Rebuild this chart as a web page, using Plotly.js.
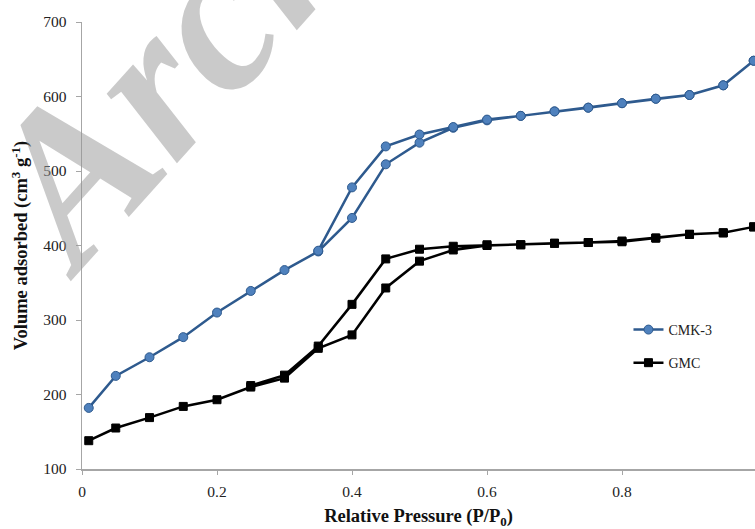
<!DOCTYPE html>
<html>
<head>
<meta charset="utf-8">
<script src="https://cdn.plot.ly/plotly-3.0.1.min.js"></script>
<style>html,body{margin:0;padding:0;background:#fff;}#chart{width:755px;height:529px;}</style>
</head>
<body>
<div id="chart"></div>
<script>
// Relative pressure values (adsorption branch, then desorption branch)
const adsP = [0.01,0.05,0.1,0.15,0.2,0.25,0.3,0.35,0.4,0.45,0.5,0.55,0.6,0.65,0.7,0.75,0.8,0.85,0.9,0.95,0.995];
const desP_cmk = [0.995,0.95,0.9,0.85,0.8,0.75,0.7,0.65,0.6,0.55,0.5,0.45,0.4,0.35];
const desP_gmc = [0.995,0.95,0.9,0.85,0.8,0.75,0.7,0.65,0.6,0.55,0.5,0.45,0.4,0.35,0.3,0.25];

// CMK-3 volumes (cm3 g-1)
const cmkAds = [182,225,250,277,310,339,367,392,437,509,538,558,568,574,580,585,591,597,602,615,648];
const cmkDes = [648,615,602,597,591,585,580,574,569,559,549,533,478,393];

// GMC volumes (cm3 g-1)
const gmcAds = [138,155,169,184,193,210,222,262,280,343,379,394,400,401,403,404,405,410,415,417,425];
const gmcDes = [425,417,415,410,406,404,403,401,401,399,395,382,321,265,226,212];

const seriesNames = ["CMK-3","GMC"];
const xTicks = [0,0.2,0.4,0.6,0.8];
const xTickText = ["0","0.2","0.4","0.6","0.8"];
const yTicks = [100,200,300,400,500,600,700];
const watermarkText = "Archive";

const serif = "Liberation Serif, Times New Roman, serif";

const traces = [
  {
    x: adsP.concat(desP_cmk), y: cmkAds.concat(cmkDes),
    name: seriesNames[0], mode: "lines+markers", type: "scatter",
    line: {color: "#2E5A8E", width: 2.5},
    marker: {symbol: "circle", size: 9, color: "#4F81BD", line: {color: "#2E5A8E", width: 1}},
    legend: "legend"
  },
  {
    x: adsP.concat(desP_gmc), y: gmcAds.concat(gmcDes),
    name: seriesNames[1], mode: "lines+markers", type: "scatter",
    line: {color: "#000000", width: 2.5},
    marker: {symbol: "square", size: 8, color: "#000000", line: {color: "#000000", width: 1}},
    legend: "legend2"
  }
];

const legendCommon = {
  font: {family: serif, size: 14, color: "#222"},
  bgcolor: "rgba(0,0,0,0)", borderwidth: 0,
  xref: "paper", yref: "paper", xanchor: "left", yanchor: "middle",
  itemwidth: 30
};

const layout = {
  width: 755, height: 529,
  margin: {l: 82, r: 0, t: 22, b: 60},
  paper_bgcolor: "#fff", plot_bgcolor: "#fff",
  font: {family: serif, color: "#222"},
  showlegend: true,
  legend: Object.assign({x: 0.812, y: 0.311}, legendCommon),
  legend2: Object.assign({x: 0.812, y: 0.237}, legendCommon),
  xaxis: {
    range: [0, 0.997],
    tickvals: xTicks, ticktext: xTickText,
    showgrid: false, zeroline: false,
    showline: true, linecolor: "#A6A6A6", linewidth: 1.5,
    ticks: "outside", ticklen: 4, tickcolor: "#A6A6A6",
    ticklabelstandoff: 4,
    tickfont: {family: serif, size: 15.5, color: "#222"},
    title: {text: "<b>Relative Pressure (P/P<sub>0</sub>)</b>", font: {family: serif, size: 18.5, color: "#111"}, standoff: 12}
  },
  yaxis: {
    range: [100, 700],
    tickvals: yTicks,
    showgrid: false, zeroline: false,
    showline: true, linecolor: "#A6A6A6", linewidth: 1.5,
    ticks: "outside", ticklen: 5, tickcolor: "#A6A6A6",
    ticklabelstandoff: 6,
    tickfont: {family: serif, size: 15.5, color: "#222"},
    title: {text: "<b>Volume adsorbed (cm<sup>3</sup> g<sup>-1</sup>)</b>", font: {family: serif, size: 18.5, color: "#111"}, standoff: 10}
  },
  annotations: [
    {
      text: "<b><i>" + watermarkText + "</i></b>", xref: "paper", yref: "paper",
      x: 0.253, y: 1.112, xanchor: "center", yanchor: "middle",
      textangle: -48, showarrow: false,
      font: {family: serif, size: 215, color: "rgba(150,150,150,0.5)"}
    }
  ]
};

Plotly.newPlot("chart", traces, layout, {displayModeBar: false, staticPlot: true});
</script>
</body>
</html>
